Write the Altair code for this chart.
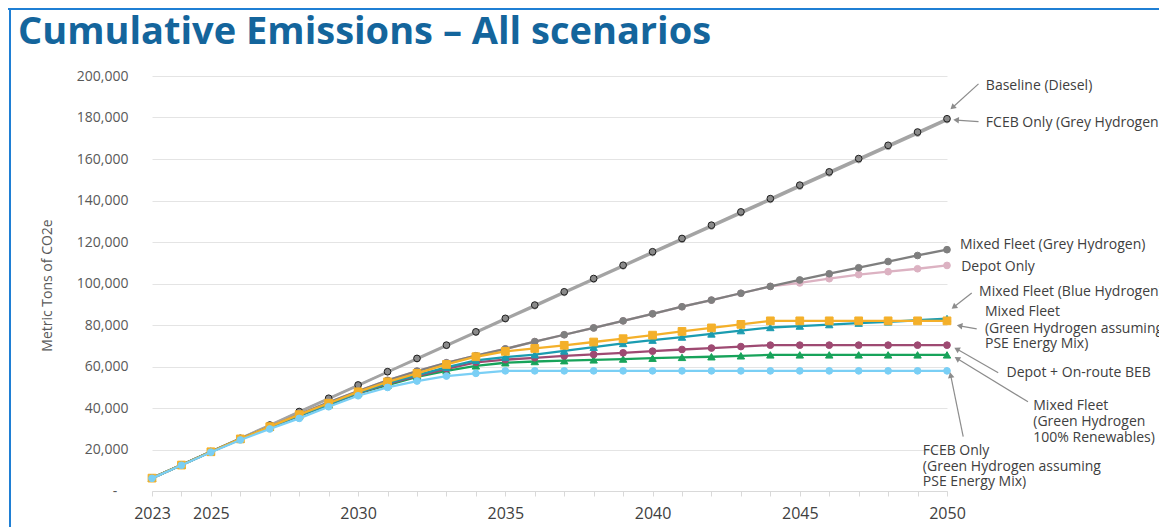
import math
import altair as alt
import pandas as pd

# ---------------- data ----------------
years = [2023, 2024, 2025, 2026, 2027, 2028, 2029, 2030, 2031, 2032, 2033, 2034, 2035, 2036,
         2037, 2038, 2039, 2040, 2041, 2042, 2043, 2044, 2045, 2046, 2047, 2048, 2049, 2050]

baseline_diesel = [6200, 12600, 19000, 25400, 31800, 38300, 44700, 51100, 57500, 63900, 70300, 76700, 83200, 89600,
                   96000, 102400, 108800, 115300, 121700, 128100, 134500, 140900, 147400, 153800, 160200, 166600, 173000, 179400]
fceb_grey = [6200, 12500, 18900, 25300, 31600, 38000, 44400, 50800, 57200, 63500, 69900, 76300, 82700, 89000,
             95400, 101800, 108200, 114600, 121000, 127400, 133800, 140200, 146600, 153000, 159400, 165800, 172200, 178700]
mixed_grey = [6200, 12500, 18900, 25100, 31100, 37000, 42700, 48200, 53300, 57800, 61800, 65200, 68500, 72000,
              75300, 78600, 82000, 85400, 88800, 92000, 95300, 98600, 101700, 104700, 107600, 110600, 113500, 116300]
depot_only = [6200, 12500, 18900, 25100, 31100, 37000, 42700, 48200, 53300, 57800, 61800, 65200, 68500, 72000,
              75300, 78600, 82000, 85400, 88800, 92000, 95300, 98600, 100300, 102300, 104300, 105700, 107100, 108700]
mixed_blue = [6200, 12500, 18900, 25000, 30800, 36400, 41800, 47300, 52000, 55800, 59600, 63000, 64500, 65700,
              67500, 69300, 71100, 72700, 74200, 75700, 77300, 78800, 79500, 80200, 80900, 81500, 82300, 83100]
mixed_green_pse = [6200, 12500, 18900, 25100, 31000, 36800, 42300, 47800, 52600, 56700, 61000, 64700, 67300, 68700,
                   70200, 71800, 73400, 75100, 76900, 78600, 80300, 82000, 82000, 82000, 82000, 82000, 82000, 82000]
depot_onroute = [6200, 12500, 18900, 25000, 30800, 36400, 41800, 47200, 51600, 55300, 58800, 62000, 63300, 64200,
                 65100, 65800, 66600, 67400, 68200, 68900, 69600, 70300, 70300, 70300, 70300, 70300, 70300, 70300]
mixed_green_100 = [6200, 12500, 18900, 25000, 30700, 36200, 41500, 47000, 51000, 55000, 57900, 60300, 61800, 62400,
                   62800, 63200, 63600, 64000, 64400, 64700, 65150, 65600, 65600, 65600, 65600, 65600, 65600, 65600]
fceb_green_pse = [6100, 12400, 18700, 24600, 29900, 35000, 40600, 45900, 49900, 53000, 55400, 56700, 57900, 57900,
                  57900, 57900, 57900, 57900, 57900, 57900, 57900, 57900, 57900, 57900, 57900, 57900, 57900, 57900]

# drawing order (bottom -> top): name, values, line colour, marker shape, marker fill, marker stroke, marker size
series = [
    ("FCEB Only (Grey Hydrogen)", fceb_grey, "#a6a6a6", "circle", "#a6a6a6", "#a6a6a6", 30),
    ("Baseline (Diesel)", baseline_diesel, "#a3a3a3", "circle", "#8a8a8a", "#1e1e1e", 45),
    ("Depot Only", depot_only, "#dcb2c2", "circle", "#dcb2c2", "#dcb2c2", 45),
    ("Mixed Fleet (Grey Hydrogen)", mixed_grey, "#7f7f7f", "circle", "#7f7f7f", "#7f7f7f", 45),
    ("Mixed Fleet (Green Hydrogen 100% Renewables)", mixed_green_100, "#17a35a", "triangle-up", "#17a35a", "#17a35a", 55),
    ("Depot + On-route BEB", depot_onroute, "#9e4a72", "circle", "#9e4a72", "#9e4a72", 45),
    ("Mixed Fleet (Blue Hydrogen)", mixed_blue, "#1b9cb0", "triangle-up", "#1b9cb0", "#1b9cb0", 55),
    ("Mixed Fleet (Green Hydrogen assuming PSE Energy Mix)", mixed_green_pse, "#f4b02a", "square", "#f4b02a", "#f4b02a", 60),
    ("FCEB Only (Green Hydrogen assuming PSE Energy Mix)", fceb_green_pse, "#7acff5", "circle", "#7acff5", "#7acff5", 45),
]

# annotation lines (text, year position, value position)
label_text = ["Baseline (Diesel)", "FCEB Only (Grey Hydrogen)", "Mixed Fleet (Grey Hydrogen)", "Depot Only",
              "Mixed Fleet (Blue Hydrogen)", "Mixed Fleet", "(Green Hydrogen assuming", "PSE Energy Mix)",
              "Depot + On-route BEB", "Mixed Fleet", "(Green Hydrogen", "100% Renewables)",
              "FCEB Only", "(Green Hydrogen assuming", "PSE Energy Mix)"]
label_year = [2051.32, 2051.32, 2050.44, 2050.48, 2051.09, 2051.29, 2051.29, 2051.29,
              2052.02, 2052.93, 2052.93, 2052.93, 2049.18, 2049.18, 2049.18]
label_value = [195200, 177500, 118550, 108100, 95760, 86120, 78070, 70840,
               56720, 41110, 33110, 25400, 19420, 11710, 4480]

# arrows: tail (year, value) -> head (year, value)
arrow_tail_year = [2051.07, 2051.07, 2050.84, 2051.01, 2051.74, 2052.75, 2050.55]
arrow_tail_value = [196200, 178000, 95400, 78150, 57000, 43000, 26200]
arrow_head_year = [2050.10, 2050.19, 2050.14, 2050.31, 2050.23, 2050.24, 2050.10]
arrow_head_value = [183700, 178900, 87600, 79900, 69250, 64700, 57500]

title_text = "Cumulative Emissions \u2013 All scenarios"
zero_label = "-"

# ---------------- layout ----------------
W, H = 795, 415
XMIN, XMAX = 2023, 2050
YMIN, YMAX = 0, 200000
FONT = "Open Sans"

x_scale = alt.Scale(domain=[XMIN, XMAX], nice=False, zero=False)
y_scale = alt.Scale(domain=[YMIN, YMAX], nice=False)

x_axis = alt.Axis(
    values=years, format="d", title=None, grid=False,
    labelExpr="(datum.value % 5 == 0 || datum.value == 2023) ? datum.label : ''",
    labelOverlap=False, labelFlush=False,
    domainColor="#d9d9d9", tickColor="#d9d9d9", tickSize=5,
    labelFont=FONT, labelFontSize=16, labelColor="#404040", labelPadding=9,
)
y_axis = alt.Axis(
    values=[0, 20000, 40000, 60000, 80000, 100000, 120000, 140000, 160000, 180000, 200000],
    labelExpr="datum.value == 0 ? '' : format(datum.value, ',')",
    grid=True, gridColor="#e4e4e4", domain=False, ticks=False,
    labelFont=FONT, labelFontSize=14, labelColor="#595959", labelPadding=24,
    title="Metric Tons of CO2e", titleFont=FONT, titleFontSize=14, titleFontWeight="normal",
    titleColor="#595959", titleAngle=270, titleAlign="center", titleBaseline="middle",
    titleX=-105, titleY=209,
)


def X(field):
    return alt.X(field, scale=x_scale, axis=x_axis)


def Y(field):
    return alt.Y(field, scale=y_scale, axis=y_axis)


def px(year):
    return (year - XMIN) / (XMAX - XMIN) * W


def py(value):
    return (YMAX - value) / (YMAX - YMIN) * H


def inv_x(p):
    return XMIN + p / W * (XMAX - XMIN)


def inv_y(p):
    return YMAX - p / H * (YMAX - YMIN)


layers = []
for name, vals, lcol, shape, fill, stroke, size in series:
    df = pd.DataFrame({"year": years, "value": vals, "series": name})
    line = alt.Chart(df).mark_line(color=lcol, strokeWidth=2.3).encode(x=X("year:Q"), y=Y("value:Q"))
    pts = alt.Chart(df).mark_point(shape=shape, filled=True, fill=fill, stroke=stroke,
                                   strokeWidth=1, size=size, opacity=1).encode(
        x=X("year:Q"), y=Y("value:Q"),
        tooltip=["series:N", "year:Q", "value:Q"],
    )
    layers += [line, pts]

# arrows
arrow_rows = []
head_rows = []
for ty, tv, hy, hv in zip(arrow_tail_year, arrow_tail_value, arrow_head_year, arrow_head_value):
    dx = px(hy) - px(ty)
    dy = py(hv) - py(tv)
    L = math.hypot(dx, dy)
    ux, uy = dx / L, dy / L
    ang = math.degrees(math.atan2(ux, -uy)) % 360
    cx = px(hy) - ux * 3.5
    cy = py(hv) - uy * 3.5
    arrow_rows.append({"year": ty, "value": tv, "year2": inv_x(cx), "value2": inv_y(cy)})
    head_rows.append({"year": inv_x(cx), "value": inv_y(cy), "angle": ang})

arrows = alt.Chart(pd.DataFrame(arrow_rows)).mark_rule(color="#8c8c8c", strokeWidth=1.2).encode(
    x=X("year:Q"), y=Y("value:Q"), x2="year2:Q", y2="value2:Q",
)
heads = alt.Chart(pd.DataFrame(head_rows)).mark_point(
    shape="triangle-up", filled=True, color="#8c8c8c", size=42, opacity=1
).encode(
    x=X("year:Q"), y=Y("value:Q"), angle=alt.Angle("angle:Q", scale=None),
)

labels = alt.Chart(pd.DataFrame({"t": label_text, "year": label_year, "value": label_value})).mark_text(
    align="left", baseline="middle", font=FONT, fontSize=14, color="#404040"
).encode(x=X("year:Q"), y=Y("value:Q"), text="t:N")

# accounting-style dash for the zero tick of the value axis
zero_dash = alt.Chart(pd.DataFrame({"t": [zero_label], "value": [0]})).mark_text(
    align="center", baseline="middle", font=FONT, fontSize=14, color="#595959", dy=1
).encode(x=alt.value(-37), y=Y("value:Q"), text="t:N")

title = alt.Chart(pd.DataFrame({"t": [title_text]})).mark_text(
    align="left", baseline="alphabetic", font=FONT, fontSize=38, fontWeight="bold", color="#14659c"
).encode(x=alt.value(-134), y=alt.value(-32), text="t:N")

border_top = alt.Chart(pd.DataFrame({"k": [0]})).mark_rule(color="#1f7fd4", strokeWidth=2).encode(
    x=alt.value(-144), x2=alt.value(W + 212), y=alt.value(-67)
)
border_left = alt.Chart(pd.DataFrame({"k": [0]})).mark_rule(color="#1f7fd4", strokeWidth=2).encode(
    x=alt.value(-142), y=alt.value(-68), y2=alt.value(H + 40)
)

chart = alt.layer(*layers, arrows, heads, labels, zero_dash, title, border_top, border_left).properties(
    width=W, height=H,
    autosize=alt.AutoSizeParams(type="none"),
    padding={"left": 144, "top": 68, "right": 212, "bottom": 36},
    background="white",
).configure_view(stroke=None)

chart.save("out.html", embed_options={"renderer": "svg", "actions": False})
